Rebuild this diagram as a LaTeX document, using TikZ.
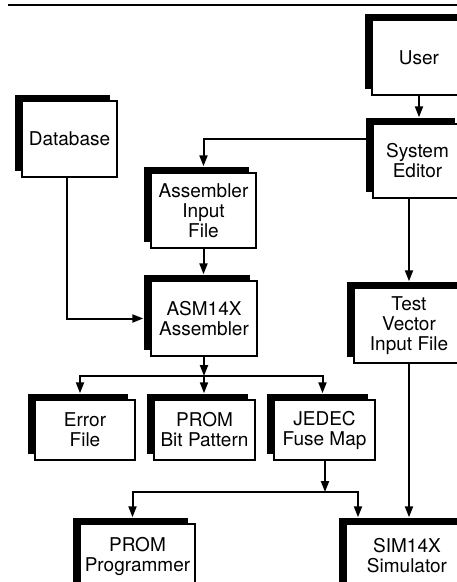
\documentclass[tikz,border=0pt]{standalone}
\usepackage{fontspec}
\setmainfont{TeX Gyre Heros}
\usetikzlibrary{arrows.meta,shadows}
\tikzset{
  module/.style={draw=black,line width=1.5pt,fill=white,align=center,
    inner sep=2pt,font=\fontsize{19}{20}\selectfont,
    general shadow={shadow xshift=-7pt,shadow yshift=6pt,fill=black}},
  flow/.style={-{Triangle[length=11pt,width=8pt]},line width=2pt},
  rule/.style={line width=2.4pt}
}

\begin{document}
\begin{tikzpicture}[x=1pt,y=-1pt]
  \useasboundingbox (0,0) rectangle (457,582);
  \clip (0,0) rectangle (457,582);
  \draw[rule] (8,5) -- (457,5);
  % tool chain boxes
  \node[module,minimum width=94pt,minimum height=75pt] (user) at (419,57.5) {User};
  \node[module,minimum width=89pt,minimum height=74pt] (editor) at (417.5,161) {System\\Editor};
  \node[module,minimum width=95pt,minimum height=76pt] (database) at (69.5,139) {Database};
  \node[module,minimum width=105pt,minimum height=75pt] (asmin) at (203.5,210.5) {Assembler\\Input\\File};
  \node[module,minimum width=106pt,minimum height=75pt] (asm) at (204,318.5) {ASM14X\\Assembler};
  \node[module,minimum width=110pt,minimum height=75pt] (testvec) at (409,325.5) {Test\\Vector\\Input File};
  \node[module,minimum width=100pt,minimum height=60pt] (errfile) at (85,430) {Error\\File};
  \node[module,minimum width=101pt,minimum height=60pt] (prombit) at (204.5,430) {PROM\\Bit Pattern};
  \node[module,minimum width=101pt,minimum height=60pt] (jedec) at (324.5,430) {JEDEC\\Fuse Map};
  \node[module,minimum width=115pt,minimum height=64pt] (promprog) at (137.5,556) {PROM\\Programmer};
  \node[module,minimum width=122pt,minimum height=64pt] (sim) at (407,556) {SIM14X\\Simulator};
  \coordinate (split) at (204,376);
  \coordinate (merge) at (325,492);
  % connections
  \draw[flow,shorten >=6pt] (user.south) -- (user.south |- editor.north);
  \draw[flow,shorten >=6pt] ([yshift=22pt]editor.west) -| (asmin.north);
  \draw[flow,shorten >=7pt] ([xshift=-3pt]database.south) |- (asm.west);
  \draw[flow,shorten >=6pt] (asmin.south) -- (asmin.south |- asm.north);
  \draw[flow] (asm.south) -- (split);
  \draw[flow,shorten >=6pt] (split) -| ([xshift=-5pt]errfile.north);
  \draw[flow,shorten >=6pt] (split) -- (split |- prombit.north);
  \draw[flow,shorten >=6pt] (split) -| ([xshift=-2pt]jedec.north);
  \draw[flow] (jedec.south -| merge) -- (merge);
  \draw[flow,shorten >=6pt] (merge) -| ([xshift=-5pt]promprog.north);
  \draw[flow,shorten >=6pt] (merge) -| ([xshift=-49pt]sim.north);
  \draw[flow,shorten >=6pt] (testvec.north |- editor.south) -- (testvec.north);
  \draw[flow,shorten >=6pt] (testvec.south) -- (testvec.south |- sim.north);
\end{tikzpicture}
\end{document}
